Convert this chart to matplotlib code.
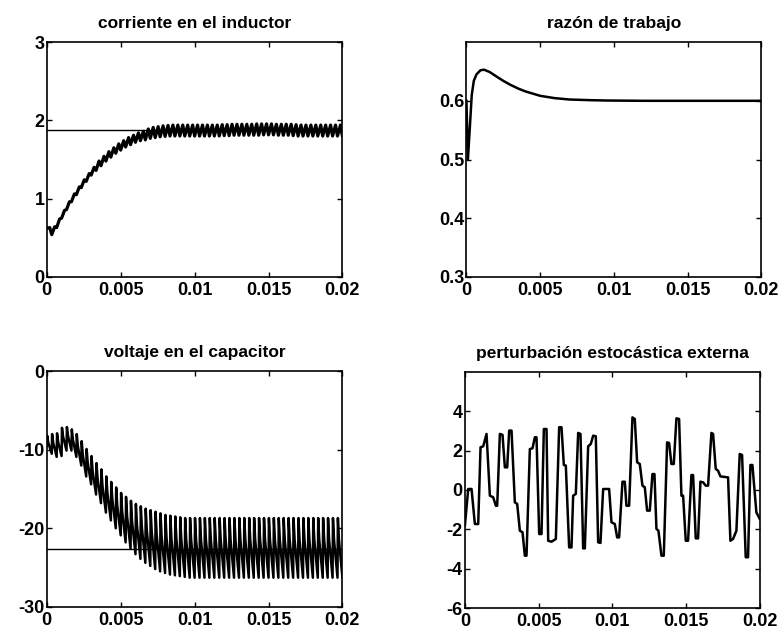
import numpy as np
import matplotlib.pyplot as plt

plt.rcParams['font.family'] = ['Liberation Sans', 'DejaVu Sans']
plt.rcParams['font.weight'] = 'bold'

T_SW = 1 / 3000      # periodo de conmutacion
DUTY_POS = 0.6       # fraccion del periodo donde cae el pico

# corriente en el inductor: valles y picos por ciclo
il_valley = [0.62, 0.54, 0.63, 0.75, 0.86, 0.96, 1.05, 1.14, 1.22, 1.30,
             1.36, 1.42, 1.48, 1.53, 1.58, 1.62, 1.66, 1.69, 1.72, 1.74,
             1.75, 1.77, 1.78, 1.79, 1.795, 1.80, 1.80, 1.80, 1.80, 1.80,
             1.80, 1.80, 1.80, 1.80, 1.80, 1.80, 1.805, 1.805, 1.81, 1.81,
             1.81, 1.81, 1.81, 1.81, 1.815, 1.815, 1.815, 1.81, 1.81, 1.81,
             1.805, 1.80, 1.80, 1.80, 1.80, 1.80, 1.80, 1.80, 1.80, 1.80,
             1.80]
il_peak = [0.63, 0.64, 0.74, 0.85, 0.96, 1.06, 1.15, 1.24, 1.32, 1.40,
           1.48, 1.54, 1.60, 1.65, 1.70, 1.74, 1.78, 1.81, 1.84, 1.86,
           1.89, 1.91, 1.92, 1.93, 1.935, 1.94, 1.94, 1.94, 1.94, 1.94,
           1.94, 1.94, 1.94, 1.94, 1.94, 1.945, 1.945, 1.95, 1.95, 1.95,
           1.95, 1.95, 1.955, 1.955, 1.955, 1.955, 1.95, 1.95, 1.95, 1.95,
           1.945, 1.94, 1.94, 1.94, 1.94, 1.94, 1.94, 1.94, 1.94, 1.94]
il_ref = 1.88

# voltaje en el capacitor: cresta, codo y fondo por ciclo
vc_start = -9.5
vc_top = [-8.2, -8.0, -7.9, -7.2, -7.1, -7.4, -8.0, -8.9, -9.9, -10.8,
          -11.7, -12.5, -13.4, -14.1, -14.8, -15.5, -16.0, -16.5, -16.9, -17.2,
          -17.5, -17.7, -17.9, -18.1, -18.3, -18.4, -18.5, -18.6, -18.7, -18.7,
          -18.7, -18.7, -18.7, -18.7, -18.7, -18.7, -18.7, -18.7, -18.7, -18.7,
          -18.7, -18.7, -18.7, -18.7, -18.7, -18.7, -18.7, -18.7, -18.7, -18.7,
          -18.7, -18.7, -18.7, -18.7, -18.7, -18.7, -18.7, -18.7, -18.7, -18.7]
vc_knee = [-9.1, -9.1, -9.0, -8.3, -8.2, -8.7, -9.5, -10.6, -11.6, -12.7,
           -13.6, -14.6, -15.5, -16.3, -17.1, -17.9, -18.5, -19.1, -19.6, -19.9,
           -20.3, -20.5, -20.8, -21.0, -21.2, -21.3, -21.3, -21.4, -21.5, -21.5,
           -21.5, -21.5, -21.5, -21.5, -21.5, -21.5, -21.5, -21.5, -21.5, -21.5,
           -21.5, -21.5, -21.5, -21.5, -21.5, -21.5, -21.5, -21.5, -21.5, -21.5,
           -21.5, -21.5, -21.5, -21.5, -21.5, -21.5, -21.5, -21.5, -21.5, -21.5]
vc_bot = [-10.5, -10.9, -10.8, -10.1, -10.1, -10.9, -12.0, -13.4, -14.4, -15.7,
          -16.8, -18.0, -19.0, -20.0, -20.9, -21.8, -22.6, -23.3, -23.9, -24.4,
          -24.8, -25.2, -25.5, -25.7, -25.9, -26.0, -26.1, -26.2, -26.3, -26.3,
          -26.3, -26.3, -26.3, -26.3, -26.3, -26.3, -26.3, -26.3, -26.3, -26.3,
          -26.3, -26.3, -26.3, -26.3, -26.3, -26.3, -26.3, -26.3, -26.3, -26.3,
          -26.3, -26.3, -26.3, -26.3, -26.3, -26.3, -26.3, -26.3, -26.3, -26.3]
vc_ref = -22.6

# razon de trabajo
duty_t = [0, 0.0001, 0.00025, 0.00036, 0.0005, 0.00068, 0.00095, 0.0012,
          0.00158, 0.002, 0.0025, 0.003, 0.0035, 0.004, 0.005, 0.006,
          0.007, 0.0085, 0.0095, 0.012, 0.02]
duty_v = [0.60, 0.50, 0.563, 0.61, 0.634, 0.645, 0.652, 0.653,
          0.649, 0.642, 0.634, 0.627, 0.621, 0.616, 0.6085, 0.6045,
          0.6022, 0.601, 0.6005, 0.600, 0.600]

# perturbacion estocastica externa
noise_t = [0, 0.000226, 0.000452, 0.000678, 0.000904, 0.001062, 0.001243, 0.001469,
           0.001695, 0.001921, 0.002102, 0.002192, 0.002373, 0.002554, 0.002712, 0.00287,
           0.003006, 0.003164, 0.00339, 0.003548, 0.003729, 0.00391, 0.004068, 0.004181,
           0.004407, 0.004588, 0.004746, 0.004859, 0.00504, 0.005198, 0.005356, 0.005537,
           0.00565, 0.005876, 0.00617, 0.006395, 0.006554, 0.006712, 0.006847, 0.007073,
           0.007232, 0.007345, 0.007525, 0.007684, 0.007842, 0.008023, 0.008136, 0.008362,
           0.008542, 0.008701, 0.008881, 0.00904, 0.009198, 0.009379, 0.009785, 0.009944,
           0.01017, 0.010328, 0.010463, 0.010689, 0.010847, 0.01096, 0.011141, 0.011367,
           0.011525, 0.011684, 0.011864, 0.012045, 0.012203, 0.012362, 0.012542, 0.012723,
           0.012859, 0.012994, 0.01313, 0.013333, 0.013492, 0.013718, 0.013853, 0.014011,
           0.01417, 0.01435, 0.014531, 0.014689, 0.014802, 0.014983, 0.015141, 0.015367,
           0.01548, 0.015661, 0.015819, 0.015977, 0.016158, 0.016339, 0.016497, 0.016723,
           0.016836, 0.017017, 0.017175, 0.017333, 0.017853, 0.018011, 0.018192, 0.018418,
           0.018644, 0.018802, 0.019051, 0.019209, 0.019367, 0.019503, 0.019774, 0.02]
noise_v = [-1.81, 0.05, 0.05, -1.73, -1.73, 2.17, 2.22, 2.85,
           -0.29, -0.37, -0.80, -0.80, 2.85, 2.80, 1.15, 1.15,
           3.02, 3.02, -0.63, -0.71, -2.07, -2.15, -3.34, -3.34,
           2.08, 2.12, 2.68, 2.68, -2.24, -2.24, 3.10, 3.10,
           -2.58, -2.63, -2.49, 3.19, 3.19, 1.27, 1.24, -2.92,
           -2.92, -0.29, -0.20, 2.90, 2.85, -2.97, -2.97, 2.22,
           2.34, 2.76, 2.73, -2.66, -2.69, 0.05, 0.05, -1.64,
           -1.73, -2.41, -2.41, 0.42, 0.42, -0.80, -0.80, 3.69,
           3.61, 1.41, 1.32, 0.22, 0.14, -1.05, -1.05, 0.81,
           0.81, -1.98, -2.07, -3.34, -3.34, 2.42, 2.39, 1.32,
           1.32, 3.64, 3.61, -0.29, -0.29, -2.58, -2.58, 0.76,
           0.76, -2.46, -2.46, 0.42, 0.39, 0.22, 0.22, 2.90,
           2.85, 1.07, 0.98, 0.69, 0.64, -2.58, -2.49, -2.07,
           1.83, 1.78, -3.42, -3.42, 1.27, 1.27, -1.14, -1.47]

x_ticks = [0, 0.005, 0.01, 0.015, 0.02]
x_labels = ['0', '0.005', '0.01', '0.015', '0.02']


def zigzag(first, second, frac):
    # alterna los valores de cada ciclo en orden temporal
    n = len(second)
    t = np.empty(2 * n + 1)
    y = np.empty(2 * n + 1)
    t[0::2] = np.arange(n + 1) * T_SW
    t[1::2] = (np.arange(n) + frac) * T_SW
    y[0::2] = first
    y[1::2] = second
    return t, y


def ripple3(start, top, knee, bot):
    # subida rapida, caida rapida hasta el codo y rampa lenta al fondo
    k = np.arange(len(top))
    t = np.column_stack([(k + 0.08) * T_SW, (k + 0.3) * T_SW, (k + 1) * T_SW]).ravel()
    y = np.column_stack([top, knee, bot]).ravel()
    return np.r_[0, t], np.r_[start, y]


def style(ax, title, yticks, ylabels, ylim):
    ax.set_title(title, fontsize=12.5, fontweight='bold', pad=10)
    ax.set_xlim(0, 0.02)
    ax.set_ylim(*ylim)
    ax.set_xticks(x_ticks)
    ax.set_xticklabels(x_labels)
    ax.set_yticks(yticks)
    ax.set_yticklabels(ylabels)
    ax.tick_params(direction='in', top=True, right=True, length=3.5, width=1,
                   labelsize=13, pad=3.5)
    ax.tick_params(axis='y', pad=1.5)
    for s in ax.spines.values():
        s.set_linewidth(1.2)


fig = plt.figure(figsize=(7.8, 6.38), dpi=100)
ax1 = fig.add_axes([0.060, 0.566, 0.379, 0.368])
ax2 = fig.add_axes([0.598, 0.566, 0.378, 0.368])
ax3 = fig.add_axes([0.060, 0.049, 0.379, 0.369])
ax4 = fig.add_axes([0.596, 0.047, 0.378, 0.370])

t, y = zigzag(il_valley, il_peak, DUTY_POS)
ax1.plot(t, y, color='k', lw=2.3)
ax1.axhline(il_ref, color='k', lw=1.0)
style(ax1, 'corriente en el inductor', [0, 1, 2, 3], ['0', '1', '2', '3'], (0, 3))

ax2.plot(duty_t, duty_v, color='k', lw=1.8)
style(ax2, 'razón de trabajo', [0.3, 0.4, 0.5, 0.6], ['0.3', '0.4', '0.5', '0.6'], (0.3, 0.7))

t, y = ripple3(vc_start, vc_top, vc_knee, vc_bot)
ax3.plot(t, y, color='k', lw=1.8)
ax3.axhline(vc_ref, color='k', lw=1.0)
style(ax3, 'voltaje en el capacitor', [-30, -20, -10, 0], ['-30', '-20', '-10', '0'], (-30, 0))

ax4.plot(noise_t, noise_v, color='k', lw=1.8)
style(ax4, 'perturbación estocástica externa', [-6, -4, -2, 0, 2, 4],
      ['-6', '-4', '-2', '0', '2', '4'], (-6, 6))

fig.savefig('out.png', dpi=100)
